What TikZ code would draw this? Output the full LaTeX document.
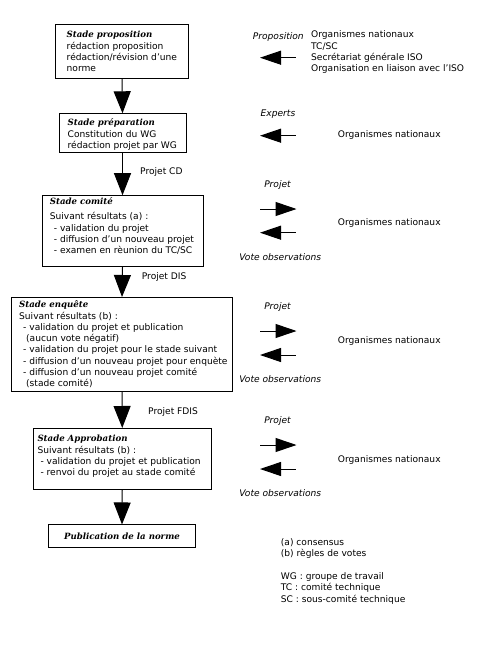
\documentclass[tikz,border=0pt]{standalone}
\usepackage{fontspec}
\setmainfont{DejaVu Sans}
\newfontfamily\headfont{DejaVu Serif}
\usetikzlibrary{arrows.meta}
\newcommand{\hd}[1]{{\headfont\fontsize{8.6}{11.3}\selectfont\bfseries\itshape #1}}
\newcommand{\ap}{\char"27\relax}
\tikzset{
  txt/.style={font=\fontsize{9.1}{11.3}\selectfont, inner sep=0pt},
  lbl/.style={txt, font=\fontsize{9.1}{11.3}\selectfont\itshape},
  stagebox/.style={draw, line width=1pt, rectangle, anchor=north west, inner sep=0pt},
  boxtext/.style={txt, align=left, anchor=west},
  bigarrow/.style={line width=1pt, -{Triangle[length=22pt,width=17pt]}},
  smallarrow/.style={line width=1pt, -{Triangle[length=21pt,width=14pt]}},
}
\begin{document}
\begin{tikzpicture}[x=1pt,y=-1pt]
\useasboundingbox (0,0) rectangle (500,664);
% stage boxes
\node[stagebox, minimum width=133pt, minimum height=54pt] (b1) at (55,24) {};
\node[boxtext] (t1x) at ([xshift=11.5pt]b1.west)
 {\hd{Stade proposition}\\r\'edaction proposition\\r\'edaction/r\'evision d\ap une\\norme};
\node[stagebox, minimum width=127pt, minimum height=39pt] (b2) at (58.5,113.3) {};
\node[boxtext] (t2x) at ([xshift=9pt,yshift=-1.5pt]b2.west)
 {\hd{Stade pr\'eparation}\\Constitution du WG\\r\'edaction projet par WG};
\node[stagebox, minimum width=161pt, minimum height=71pt] (b3) at (41.7,195.2) {};
\node[boxtext] (t3x) at ([xshift=8pt,yshift=5pt]b3.west)
 {\hd{Stade comit\'e}\\[4pt]Suivant r\'esultats (a) :\\\hspace*{4pt}- validation du projet\\\hspace*{4pt}- diffusion d\ap un nouveau projet\\\hspace*{4pt}- examen en r\`eunion du TC/SC};
\node[stagebox, minimum width=221pt, minimum height=94pt] (b4) at (11,297) {};
\node[boxtext] (t4x) at ([xshift=8pt]b4.west)
 {\hd{Stade enqu\^ete}\\Suivant r\'esultats (b) :\\\hspace*{4pt}- validation du projet et publication\\\hspace*{7pt}(aucun vote n\'egatif)\\\hspace*{4pt}- validation du projet pour le stade suivant\\\hspace*{4pt}- diffusion d\ap un nouveau projet pour enqu\`ete\\\hspace*{4pt}- diffusion d\ap un nouveau projet comit\'e\\\hspace*{7pt}(stade comit\'e)};
\node[stagebox, minimum width=177.5pt, minimum height=61pt] (b5) at (33,428) {};
\node[boxtext] (t5x) at ([xshift=4.3pt,yshift=2.5pt]b5.west)
 {\hd{Stade Approbation}\\Suivant r\'esultats (b) :\\\hspace*{3pt}- validation du projet et publication\\\hspace*{3pt}- renvoi du projet au stade comit\'e};
\node[draw, line width=1pt, rectangle, txt, minimum width=147.5pt, minimum height=22.7pt] (b6) at (122,536.3)
 {\hd{Publication de la norme}};
% main connectors
\draw[bigarrow] (b1.south) -- (b2.north);
\draw[bigarrow] (b2.south) -- (b2.south |- b3.north);
\draw[bigarrow] (b2.south |- b3.south) -- (b4.north);
\draw[bigarrow] (b4.south) -- (b5.north);
\draw[bigarrow] (b5.south) -- (b6.north);
\node[txt, anchor=west] (lcd) at (140,172) {Projet CD};
\node[txt, anchor=west] (ldis) at (141.7,277) {Projet DIS};
\node[txt, anchor=west] (lfdis) at (148,412) {Projet FDIS};
% row 1
\node[lbl, anchor=west] (p1) at (252.7,36.7) {Proposition};
\node[txt, anchor=west, align=left] (o1) at (311,52.2) {Organismes nationaux\\TC/SC\\Secr\'etariat g\'en\'erale ISO\\Organisation en liaison avec l\ap ISO};
\coordinate (t1) at (295.5,57.7);
\coordinate (h1) at (260,57.7);
\draw[smallarrow] (t1) -- (h1);
% row 2
\node[lbl] (p2) at (278,114) {Experts};
\node[txt, anchor=west] (o2) at (337.7,135.3) {Organismes nationaux};
\coordinate (t2) at (295.5,135.7);
\coordinate (h2) at (260,135.7);
\draw[smallarrow] (t2) -- (h2);
% row 3
\node[lbl] (p3) at (277.5,185) {Projet};
\node[lbl] (v3) at (280.2,257.3) {Vote observations};
\node[txt, anchor=west] (o3) at (337.7,222.7) {Organismes nationaux};
\coordinate (a3) at (260,209);
\coordinate (b3r) at (296.5,209);
\coordinate (c3) at (295.5,232.7);
\coordinate (d3) at (260,232.7);
\draw[smallarrow] (a3) -- (b3r);
\draw[smallarrow] (c3) -- (d3);
% row 4
\node[lbl] (p4) at (277.5,306.7) {Projet};
\node[lbl] (v4) at (280.2,379.3) {Vote observations};
\node[txt, anchor=west] (o4) at (337.7,341) {Organismes nationaux};
\coordinate (a4) at (260,331);
\coordinate (b4r) at (296.5,331);
\coordinate (c4) at (295.5,355);
\coordinate (d4) at (260,355);
\draw[smallarrow] (a4) -- (b4r);
\draw[smallarrow] (c4) -- (d4);
% row 5
\node[lbl] (p5) at (277.5,421) {Projet};
\node[lbl] (v5) at (280.2,493.3) {Vote observations};
\node[txt, anchor=west] (o5) at (337.7,460) {Organismes nationaux};
\coordinate (a5) at (260,445);
\coordinate (b5r) at (296.5,445);
\coordinate (c5) at (295.5,469);
\coordinate (d5) at (260,469);
\draw[smallarrow] (a5) -- (b5r);
\draw[smallarrow] (c5) -- (d5);
% notes
\node[txt, anchor=north west, align=left] (notes) at (280.7,538.5) {(a) consensus\\(b) r\`egles de votes\\[11.3pt]WG : groupe de travail\\TC : comit\'e technique\\SC : sous-comit\'e technique};
\end{tikzpicture}
\end{document}
